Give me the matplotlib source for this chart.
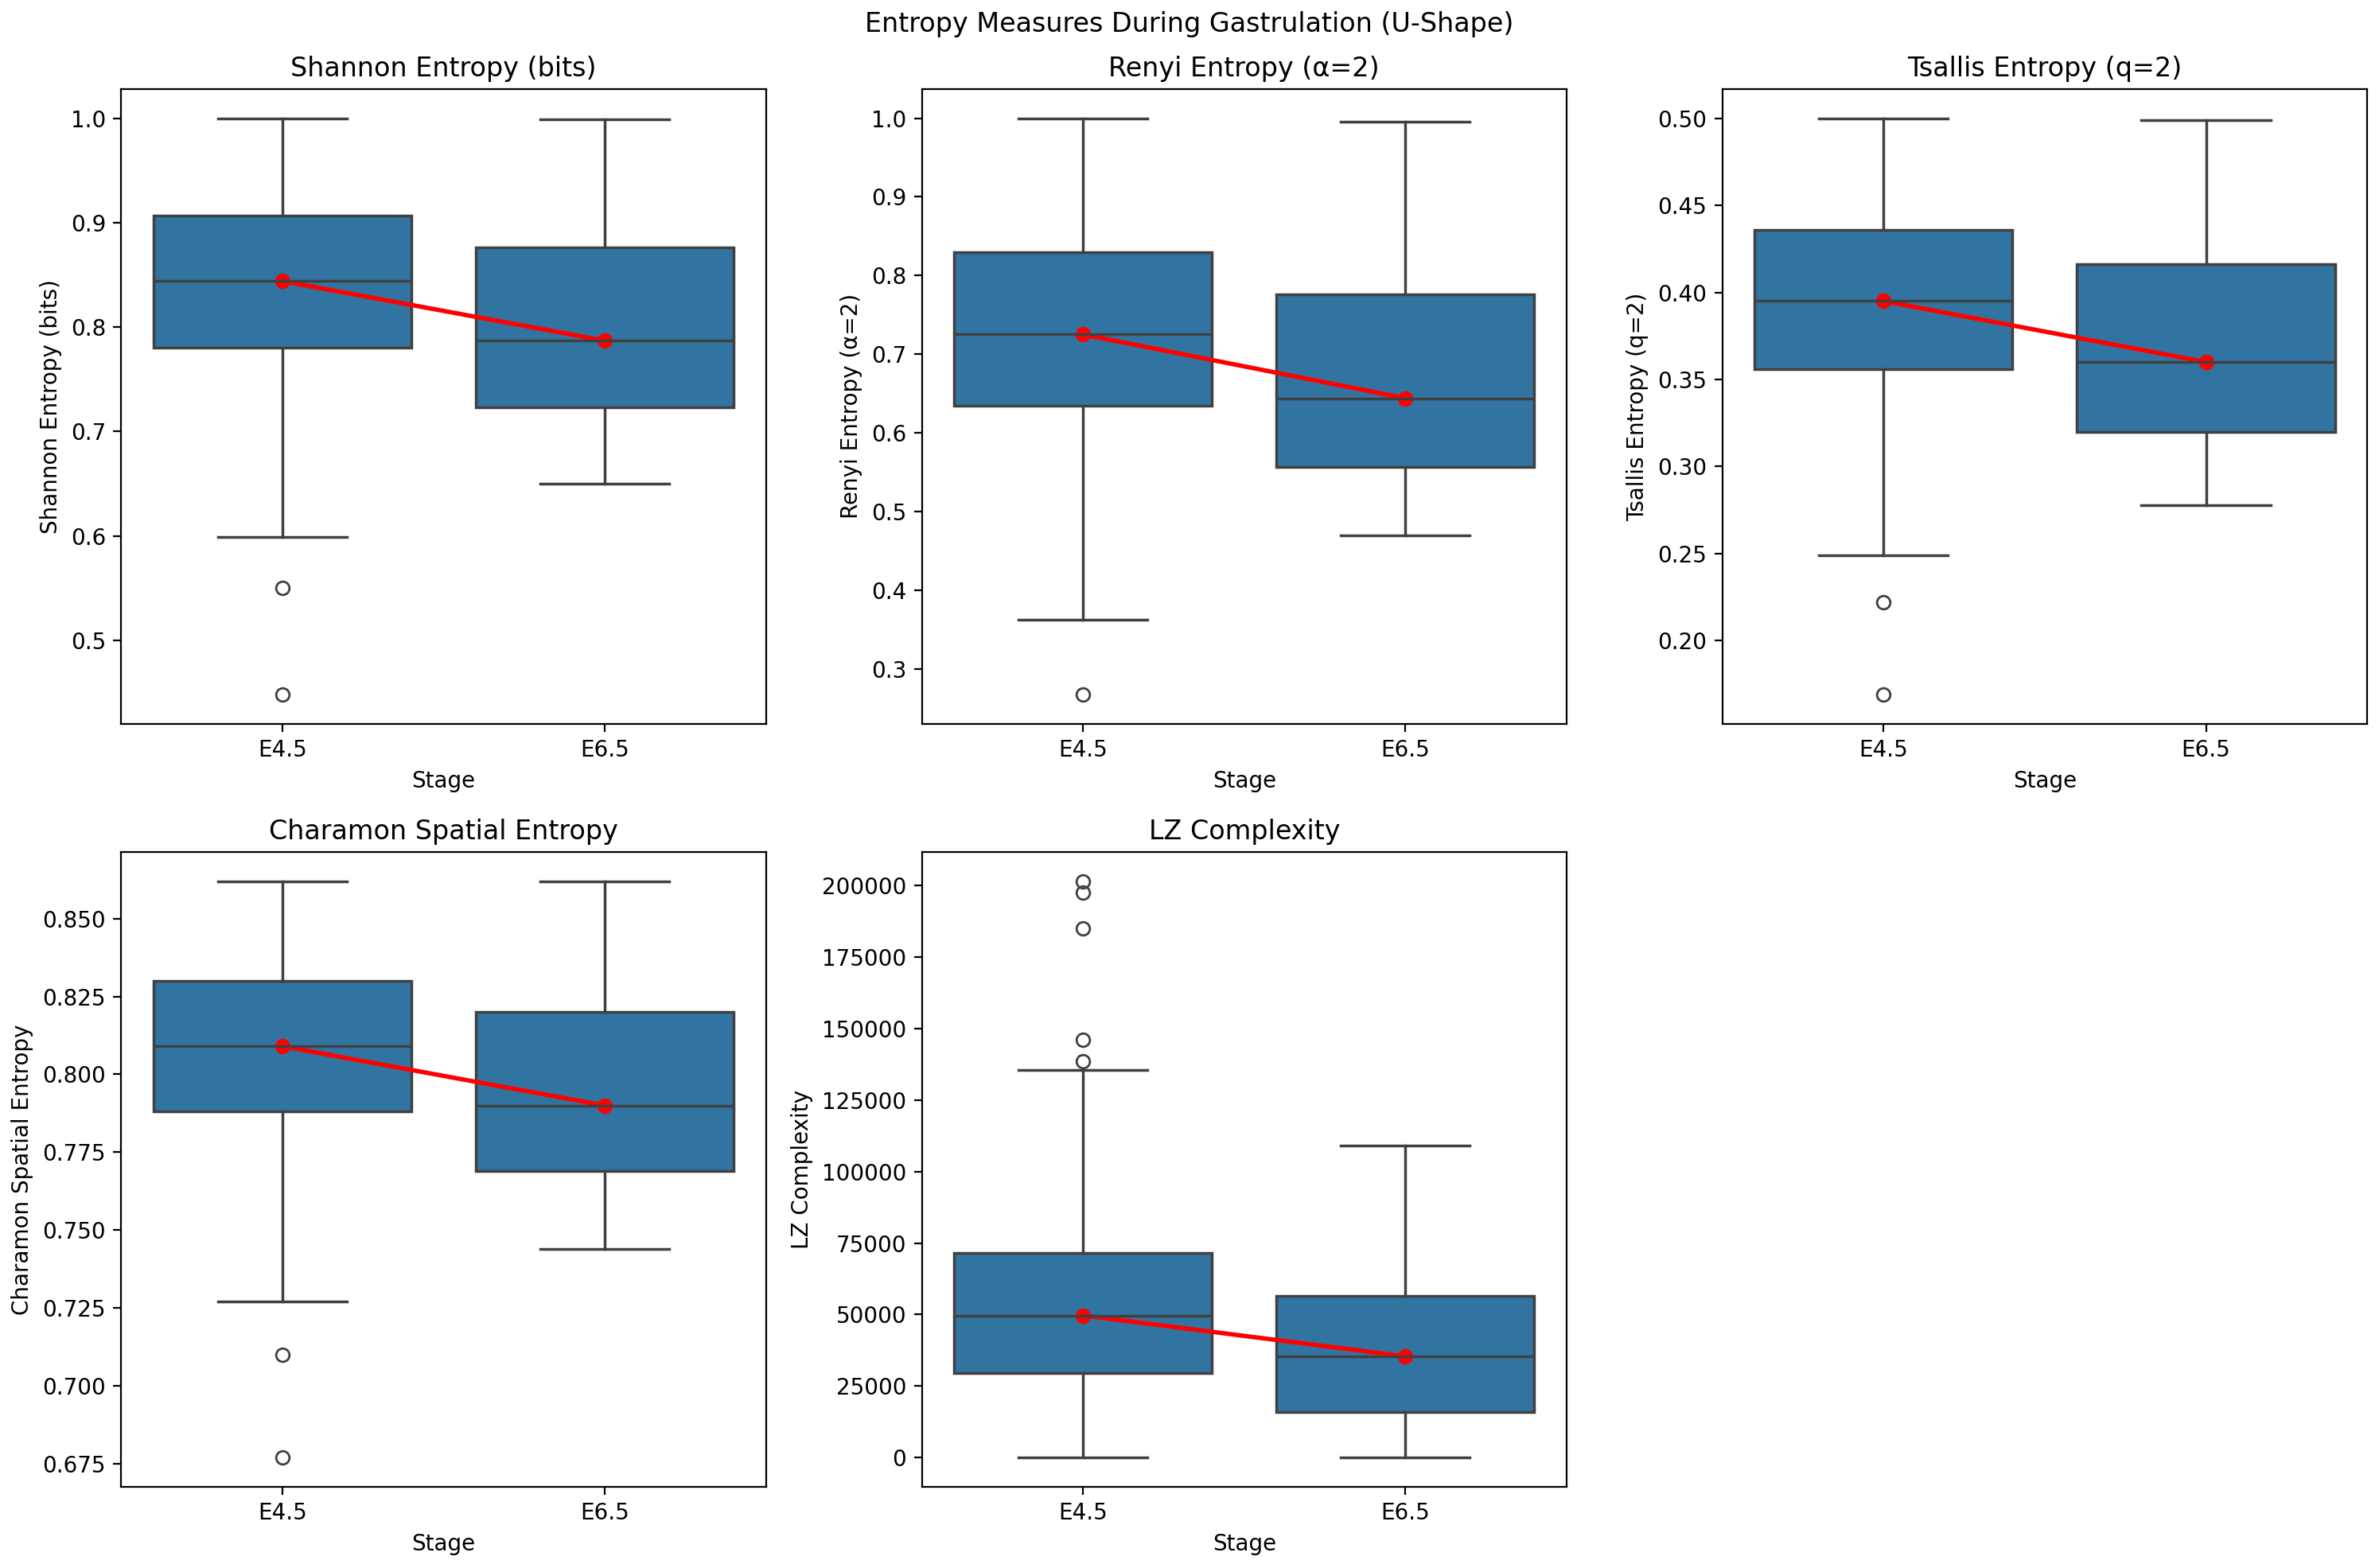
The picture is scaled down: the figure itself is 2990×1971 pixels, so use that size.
import numpy as np
import matplotlib
matplotlib.use("Agg")
import matplotlib.pyplot as plt

stages = ["E4.5", "E6.5"]

titles = ["Shannon Entropy (bits)", "Renyi Entropy (α=2)", "Tsallis Entropy (q=2)",
          "Charamon Spatial Entropy", "LZ Complexity"]

# per stage: whislo, q1, med, q3, whishi
shannon = [[0.599, 0.780, 0.844, 0.907, 1.000], [0.650, 0.723, 0.787, 0.876, 0.999]]
shannon_out = [[0.550, 0.448], []]

renyi = [[0.362, 0.634, 0.725, 0.830, 1.000], [0.470, 0.557, 0.644, 0.776, 0.996]]
renyi_out = [[0.267], []]

tsallis = [[0.249, 0.356, 0.395, 0.436, 0.500], [0.278, 0.320, 0.360, 0.416, 0.499]]
tsallis_out = [[0.222, 0.169], []]

charamon = [[0.727, 0.788, 0.809, 0.830, 0.862], [0.744, 0.769, 0.790, 0.820, 0.862]]
charamon_out = [[0.710, 0.677], []]

lz = [[0, 29600, 49700, 71400, 135400], [0, 15900, 35400, 56600, 109000]]
lz_out = [[201500, 197500, 185000, 146000, 138500], []]

all_stats = [shannon, renyi, tsallis, charamon, lz]
all_out = [shannon_out, renyi_out, tsallis_out, charamon_out, lz_out]

box_color = "#3274a1"
line_gray = "#404040"

fig, axes = plt.subplots(2, 3, figsize=(14.95, 9.855), dpi=200)
axes = axes.flatten()

for i, (title, st, out) in enumerate(zip(titles, all_stats, all_out)):
    ax = axes[i]
    bxp_stats = []
    for j in range(len(stages)):
        lo, q1, med, q3, hi = st[j]
        bxp_stats.append(dict(whislo=lo, q1=q1, med=med, q3=q3, whishi=hi,
                              fliers=np.array(out[j]), label=stages[j]))
    ax.bxp(bxp_stats, positions=range(len(stages)), widths=0.8, patch_artist=True,
           capwidths=0.4,
           boxprops=dict(facecolor=box_color, edgecolor=line_gray, linewidth=1.25),
           medianprops=dict(color=line_gray, linewidth=1.25),
           whiskerprops=dict(color=line_gray, linewidth=1.25),
           capprops=dict(color=line_gray, linewidth=1.25),
           flierprops=dict(marker="o", markerfacecolor="none",
                           markeredgecolor=line_gray, markersize=6))
    medians = [s[2] for s in st]
    ax.plot(range(len(stages)), medians, "ro-", linewidth=2, markersize=6)
    ax.set_xlim(-0.5, 1.5)
    ax.set_xticks(range(len(stages)))
    ax.set_xticklabels(stages)
    ax.set_title(title)
    ax.set_xlabel("Stage")
    ax.set_ylabel(title)

axes[5].remove()

fig.suptitle("Entropy Measures During Gastrulation (U-Shape)", y=0.993)
plt.subplots_adjust(left=0.051, right=0.995, top=0.943, bottom=0.052,
                    wspace=0.242, hspace=0.203)
plt.savefig("out.png", dpi=200)
